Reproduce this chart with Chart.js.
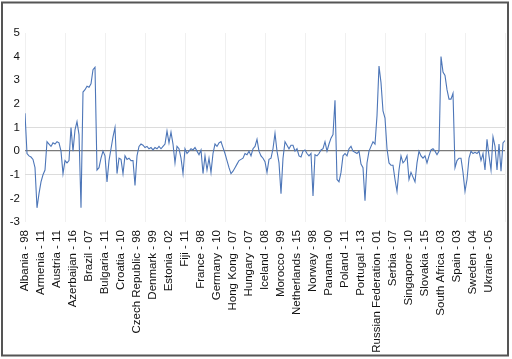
<!DOCTYPE html>
<html>
<head>
<meta charset="utf-8">
<script src="https://cdn.jsdelivr.net/npm/chart.js@4/dist/chart.umd.min.js"></script>
<style>
html,body{margin:0;padding:0;background:#fff;}
#wrap{width:512px;height:359px;position:relative;}
</style>
</head>
<body>
<div id="wrap"><canvas id="c" width="512" height="359"></canvas></div>
<script>
// Tick labels (one every 8 observations)
const tickLabels = ["Albania - 98","Armenia - 11","Austria - 11","Azerbaijan - 16","Brazil - 07","Bulgaria - 11","Croatia - 10","Czech Republic - 98","Denmark - 99","Estonia - 02","Fiji - 11","France - 98","Germany - 10","Hong Kong - 07","Hungary - 07","Iceland - 08","Morocco - 99","Netherlands - 15","Norway - 98","Panama - 00","Poland - 11","Portugal - 13","Russian Federation - 01","Serbia - 07","Singapore - 10","Slovakia - 15","South Africa - 03","Spain - 03","Sweden - 04","Ukraine - 05"];
const labelStep = 8;

// Series values
const values = [
 1.6,-0.1,-0.2,-0.25,-0.35,-0.7,-2.4,-1.8,-1.3,-1.0,
 -0.8,0.4,0.3,0.2,0.35,0.3,0.4,0.35,0.0,-0.95,
 -0.4,-0.5,-0.4,1.0,0.0,0.9,1.25,0.7,-2.4,2.5,
 2.6,2.75,2.7,2.85,3.45,3.55,-0.8,-0.7,-0.3,0.0,
 -0.2,-1.3,-0.4,0.1,0.6,1.0,-0.95,-0.3,-0.35,-0.95,
 -0.2,-0.35,-0.3,-0.4,-0.4,-1.45,-0.2,0.2,0.3,0.25,
 0.15,0.2,0.1,0.15,0.05,0.15,0.1,0.2,0.1,0.2,
 0.3,0.85,0.35,0.8,0.3,-0.5,0.2,0.1,-0.3,-0.95,
 0.1,-0.1,0.0,0.1,0.05,0.15,0.0,-0.15,0.05,-0.95,
 -0.2,-0.8,-0.3,-0.9,-0.1,0.3,0.2,0.35,0.4,0.15,
 -0.1,-0.4,-0.7,-0.95,-0.85,-0.7,-0.55,-0.4,-0.35,-0.3,
 -0.1,-0.15,0.0,-0.2,0.1,0.2,0.5,0.0,-0.2,-0.3,
 -0.45,-0.9,-0.35,-0.3,0.1,0.75,0.0,-0.5,-1.8,-0.3,
 0.4,0.25,0.1,0.25,0.25,0.0,0.1,-0.2,-0.25,0.0,
 0.05,-0.1,-0.2,-0.1,-1.9,-0.15,-0.2,-0.1,0.05,0.1,
 0.4,0.0,0.3,0.55,0.7,2.15,-1.2,-1.3,-0.9,-0.2,
 -0.1,-0.2,0.1,0.2,0.0,-0.05,-0.1,0.0,-0.55,-0.7,
 -2.1,-0.5,0.0,0.2,0.4,0.3,1.5,3.6,2.9,1.7,
 1.4,0.1,-0.5,-0.6,-0.6,-1.2,-1.7,-0.8,-0.2,-0.5,
 -0.4,-0.2,-1.2,-0.9,-1.1,-1.3,-0.5,0.0,-0.2,-0.3,
 -0.2,-0.5,-0.2,0.05,0.1,0.0,-0.15,0.0,4.0,3.35,
 3.2,2.6,2.2,2.2,2.45,-0.7,-0.4,-0.3,-0.3,-0.9,
 -1.7,-1.2,-0.3,0.0,-0.1,-0.05,-0.1,0.0,-0.4,-0.1,
 -0.8,0.5,-0.2,-0.8,0.6,0.2,-0.8,0.3,-0.85,0.35,
 0.45
];
const yTicks = [-3,-2,-1,0,1,2,3,4,5];

const points = values.map((v,i)=>({x:i,y:v}));
const lastIndex = values.length - 1;

const framePlugin = {
  id:'frame',
  afterDraw(chart){
    const ctx = chart.ctx;
    ctx.save();
    ctx.strokeStyle = '#555';
    ctx.lineWidth = 2;
    ctx.strokeRect(2, 2.5, 506, 353);
    ctx.restore();
  }
};

const font = {family:'"Liberation Sans", Arial, sans-serif', size:11.5};

new Chart(document.getElementById('c'), {
  type:'line',
  data:{datasets:[{
    data:points,
    borderColor:'#4d76b8',
    borderWidth:1.1,
    pointRadius:0,
    tension:0,
    fill:false
  }]},
  options:{
    responsive:false,
    animation:false,
    layout:{padding:{left:0,right:7,top:33,bottom:0}},
    plugins:{legend:{display:false},tooltip:{enabled:false}},
    scales:{
      x:{
        type:'linear', min:0, max:lastIndex, position:'bottom',
        afterBuildTicks(axis){ axis.ticks = tickLabels.map((_,i)=>({value:i*labelStep})); },
        afterFit(axis){ axis.height = 137; },
        ticks:{
          autoSkip:false, minRotation:90, maxRotation:90, padding:8,
          color:'#111', font:font,
          callback:(v)=> tickLabels[Math.round(v/labelStep)]
        },
        grid:{display:false, drawTicks:false},
        border:{display:false}
      },
      xg:{
        type:'linear', min:0, max:lastIndex, position:'bottom',
        afterBuildTicks(axis){ const t=[]; for(let v=0; v<=lastIndex; v+=20) t.push({value:v}); axis.ticks=t; },
        afterFit(axis){ axis.height = 0; },
        ticks:{display:false},
        grid:{display:true, drawTicks:false, color:'#f0f0f0', lineWidth:1},
        border:{display:false}
      },
      y:{
        min:-3, max:5,
        afterBuildTicks(axis){ axis.ticks = yTicks.map(v=>({value:v})); },
        afterFit(axis){ axis.width = 25; },
        ticks:{color:'#111', font:font, padding:5},
        grid:{
          drawTicks:false,
          color:(c)=> c.tick.value===0 ? '#7a7a7a' : (Math.abs(c.tick.value)===1 ? '#dcdcdc' : 'rgba(0,0,0,0)'),
          lineWidth:(c)=> c.tick.value===0 ? 1.3 : 1
        },
        border:{display:false}
      }
    }
  },
  plugins:[framePlugin]
});
</script>
</body>
</html>
